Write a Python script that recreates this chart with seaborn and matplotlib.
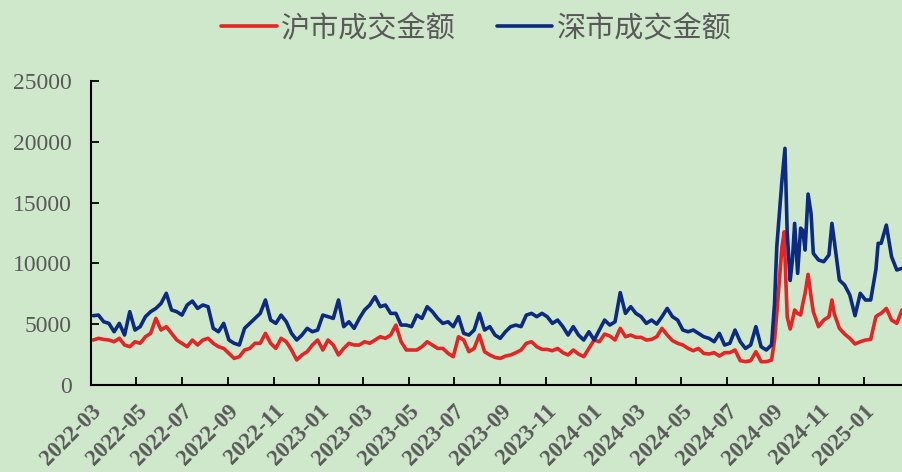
import numpy as np
import pandas as pd
import matplotlib
matplotlib.use('Agg')
import matplotlib.pyplot as plt
import matplotlib.dates as mdates
import seaborn as sns

# 周度数据（亿元），每周五一个点
week_dates = pd.date_range('2022-03-04', '2025-02-21', freq='W-FRI')

sh_week = [3700, 3840, 3750, 3700, 3560, 3840, 3290, 3150, 3560, 3430,
           3970, 4250, 5480, 4520, 4800, 4250, 3700, 3430, 3150, 3700,
           3290, 3700, 3840, 3430, 3150, 3010, 2600, 2190, 2330, 2880,
           3010, 3430, 3430, 4250, 3430, 3010, 3840, 3560, 2880, 2060,
           2470, 2740, 3290, 3700, 2880, 3700, 3290, 2470, 3010, 3430,
           3290, 3290, 3560, 3430, 3700, 3970, 3840, 4110, 4930, 3560,
           2880, 2880, 2880, 3150, 3560, 3290, 3010, 3010, 2600, 2330,
           3970, 3700, 2740, 3010, 4110, 2740, 2470, 2270, 2190, 2380,
           2470, 2660, 2880, 3430, 3560, 3150, 2930, 2930, 2820, 3010,
           2660, 2470, 2880, 2550, 2330, 3010, 3700, 3560, 4190, 4030,
           3700, 4660, 3970, 4110, 3920, 3920, 3700, 3750, 3970, 4660,
           4110, 3650, 3430, 3290, 3010, 2820, 3010, 2600, 2550, 2660,
           2380, 2660, 2660, 2880, 2000, 1920, 2000, 2740, 1920, 1920,
           2050, 5890, 11370, 5600, 5340, 5890, 6710, 9100, 6030, 4800,
           5340, 5620, 5890, 4660, 4190, 3840, 3370, 3560, 3700, 3750,
           5620, 5890, 6300, 5340, 5070, 6170]

sz_week = [5700, 5750, 5200, 5070, 4380, 5070, 4110, 6030, 4520, 4800,
           5620, 6030, 6300, 6710, 7540, 6170, 6030, 5750, 6580, 6900,
           6300, 6580, 6440, 4660, 4380, 5070, 3700, 3430, 3290, 4660,
           5070, 5480, 5890, 6990, 5340, 5070, 5750, 5200, 4250, 3700,
           4110, 4660, 4380, 4520, 5750, 5620, 5480, 6990, 4800, 5200,
           4660, 5480, 6170, 6580, 7260, 6440, 6580, 5890, 5890, 4930,
           4930, 4800, 5750, 5480, 6440, 6030, 5480, 5070, 5200, 4800,
           5620, 4250, 4110, 4520, 5890, 4520, 4800, 4110, 3840, 4380,
           4800, 4930, 4800, 5750, 5890, 5620, 5890, 5620, 5070, 5340,
           4800, 4110, 4800, 4110, 3700, 4380, 3700, 4520, 5340, 4930,
           5200, 7600, 5890, 6440, 5890, 5620, 5070, 5340, 5010, 5620,
           6300, 5620, 5340, 4520, 4380, 4520, 4250, 3970, 3840, 3560,
           4250, 3290, 3430, 4520, 3560, 3010, 3290, 4800, 3150, 2880,
           3300, 11370, 16860, 12500, 10280, 9180, 12700, 15700, 10830, 10280,
           10140, 10690, 11920, 8630, 8220, 7400, 5700, 7540, 6990, 6990,
           9500, 11650, 13150, 10550, 9460, 9590]

# 放量阶段补充的日度点
extra_dates = pd.to_datetime(['2024-09-03', '2024-09-16', '2024-09-17', '2024-09-24',
                              '2024-09-30', '2024-10-08', '2024-10-14', '2024-10-22',
                              '2024-11-19', '2025-01-20'])
sh_extra = [3700, 12600, 10550, 4600, 6170, 5760, 7540, 7260, 6990, 5760]
sz_extra = [6700, 18800, 19460, 8600, 13290, 12900, 11100, 14100, 13290, 11650]

labels = ['沪市成交金额', '深市成交金额']
colors = ['#E32526', '#0B2A80']
bg = '#CFE8CB'

df = pd.DataFrame({
    'date': list(week_dates) + list(extra_dates),
    labels[0]: sh_week + sh_extra,
    labels[1]: sz_week + sz_extra,
}).sort_values('date')
long_df = df.melt(id_vars='date', var_name='market', value_name='amount')

sns.set_style('ticks')
plt.rcParams['font.family'] = ['Liberation Serif', 'Noto Sans CJK SC']

fig = plt.figure(figsize=(9.02, 4.72), dpi=100, facecolor=bg)
ax = fig.add_axes([0.1009, 0.1843, 0.8991, 0.6441])
ax.set_facecolor(bg)

sns.lineplot(data=long_df, x='date', y='amount', hue='market', hue_order=labels,
             palette=colors, linewidth=2.6, legend=False, ax=ax)

ax.set_ylim(0, 25000)
ax.set_yticks(range(0, 25001, 5000))
ax.set_xlim(pd.Timestamp('2022-03-01'), pd.Timestamp('2025-02-21'))
ax.xaxis.set_major_locator(mdates.MonthLocator(bymonth=[1, 3, 5, 7, 9, 11]))
ax.xaxis.set_major_formatter(mdates.DateFormatter('%Y-%m'))
ax.set_xlabel('')
ax.set_ylabel('')

for s in ['top', 'right']:
    ax.spines[s].set_visible(False)
for s in ['left', 'bottom']:
    ax.spines[s].set_linewidth(1.5)
    ax.spines[s].set_color('black')

ax.tick_params(axis='both', direction='in', length=6, width=1.3, color='black',
               labelcolor='#595959')
ax.tick_params(axis='y', pad=14, labelsize=17)
ax.tick_params(axis='x', pad=11, labelsize=16.5)
for t in ax.get_xticklabels():
    t.set_rotation(45)
    t.set_ha('right')
    t.set_rotation_mode('anchor')
    t.set_fontweight('bold')

fig.legend(ax.lines[:2], labels, loc='center', bbox_to_anchor=(0.528, 0.94), ncol=2,
           frameon=False, handlelength=1.9, handletextpad=0.15, columnspacing=1.4,
           prop={'family': ['Noto Sans CJK SC'], 'size': 21}, labelcolor='#595959')

fig.savefig('out.png', dpi=100, facecolor=bg)
